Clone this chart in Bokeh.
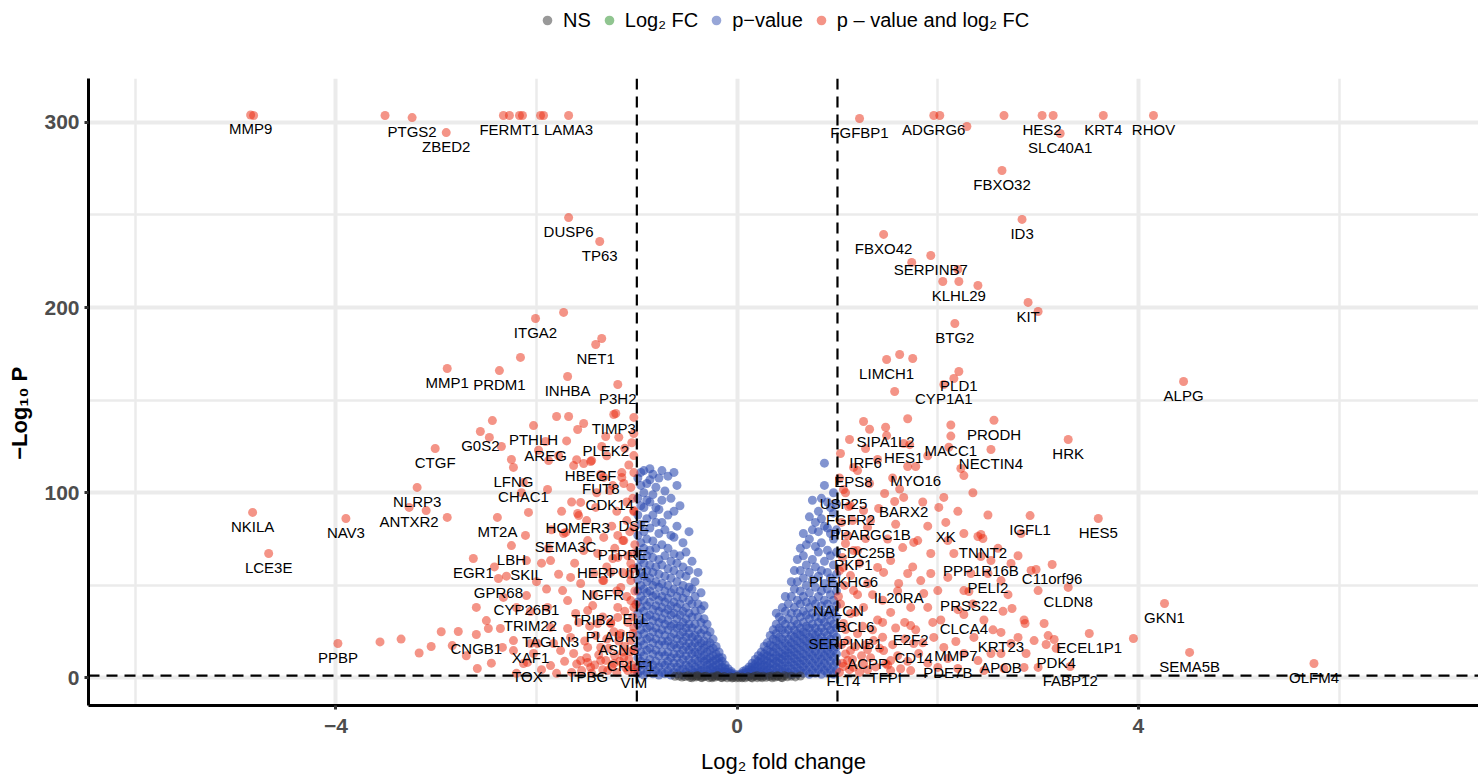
from bokeh.plotting import figure
from bokeh.layouts import column
from bokeh.models import ColumnDataSource, Span, FixedTicker, Legend, LegendItem, Range1d
from bokeh.embed import file_html
from bokeh.resources import INLINE
from bokeh.core.properties import value

# ---------------- data ----------------
# labelled genes: name, log2 fold change, -log10 p
LAB_GENES = ["MMP9", "PTGS2", "ZBED2", "FERMT1", "LAMA3", "DUSP6", "TP63", "ITGA2", "NET1", "MMP1",
             "PRDM1", "INHBA", "P3H2", "TIMP3", "G0S2", "PTHLH", "PLEK2", "AREG", "CTGF", "HBEGF",
             "LFNG", "FUT8", "CHAC1", "NLRP3", "CDK14", "ANTXR2", "DSE", "NKILA", "HOMER3", "MT2A",
             "NAV3", "SEMA3C", "PTPRE", "LBH", "LCE3E", "HERPUD1", "EGR1", "SKIL", "GPR68", "NGFR",
             "CYP26B1", "ELL", "TRIB2", "TRIM22", "PLAUR", "TAGLN3", "CNGB1", "ASNS", "PPBP", "XAF1",
             "CRLF1", "TOX", "TPBG", "VIM",
             "FGFBP1", "ADGRG6", "HES2", "KRT4", "RHOV", "SLC40A1", "FBXO32", "ID3", "FBXO42", "SERPINB7",
             "KLHL29", "KIT", "BTG2", "LIMCH1", "PLD1", "ALPG", "CYP1A1", "PRODH", "SIPA1L2", "MACC1",
             "HRK", "HES1", "IRF6", "NECTIN4", "MYO16", "EPS8", "USP25", "BARX2", "FGFR2", "IGFL1",
             "HES5", "PPARGC1B", "XK", "CDC25B", "TNNT2", "PKP1", "PPP1R16B", "C11orf96", "PLEKHG6", "PELI2",
             "IL20RA", "CLDN8", "PRSS22", "NALCN", "GKN1", "BCL6", "CLCA4", "E2F2", "SERPINB1", "KRT23",
             "ECEL1P1", "MMP7", "CD14", "PDK4", "ACPP", "SEMA5B", "APOB", "PDE7B", "TFPI", "OLFM4",
             "FLT4", "FABP12"]
LAB_LFC = [-4.85, -3.24, -2.90, -2.27, -1.68, -1.68, -1.37, -2.01, -1.41, -2.89,
           -2.37, -1.69, -1.19, -1.23, -2.56, -2.03, -1.31, -1.91, -3.01, -1.46,
           -2.23, -1.36, -2.13, -3.19, -1.27, -3.27, -1.03, -4.83, -1.59, -2.39,
           -3.90, -1.71, -1.14, -2.25, -4.67, -1.24, -2.63, -2.10, -2.38, -1.34,
           -2.10, -1.01, -1.44, -2.06, -1.26, -1.86, -2.60, -1.18, -3.98, -2.06,
           -1.06, -2.09, -1.49, -1.03,
           1.22, 1.96, 3.04, 3.65, 4.15, 3.22, 2.64, 2.84, 1.46, 1.93,
           2.21, 2.90, 2.17, 1.49, 2.21, 4.45, 2.06, 2.56, 1.48, 2.13,
           3.30, 1.66, 1.28, 2.53, 1.78, 1.16, 1.06, 1.66, 1.13, 2.92,
           3.60, 1.33, 2.08, 1.28, 2.45, 1.16, 2.43, 3.14, 1.06, 2.50,
           1.61, 3.30, 2.31, 1.01, 4.26, 1.18, 2.26, 1.73, 1.08, 2.63,
           3.51, 2.18, 1.76, 3.18, 1.30, 4.51, 2.63, 2.10, 1.48, 5.75,
           1.06, 3.32]
LAB_P = [304.0, 302.6, 294.5, 303.7, 303.7, 248.6, 235.7, 194.1, 180.1, 167.1,
         166.0, 162.8, 158.5, 142.3, 133.1, 136.3, 130.4, 127.7, 123.9, 116.9,
         113.7, 109.9, 105.6, 102.9, 101.2, 92.1, 89.9, 89.4, 88.8, 86.7,
         86.1, 78.6, 74.2, 71.5, 67.2, 64.5, 64.5, 63.4, 53.7, 52.6,
         44.5, 39.7, 39.1, 35.9, 30.0, 27.3, 23.5, 22.9, 18.6, 18.6,
         14.3, 8.4, 8.4, 5.1,
         302.1, 303.7, 303.7, 303.7, 303.7, 294.0, 274.0, 247.6, 239.5, 228.1,
         214.1, 202.8, 191.4, 172.0, 165.5, 160.1, 158.5, 139.2, 135.4, 130.6,
         128.8, 126.6, 123.9, 123.4, 114.2, 113.7, 101.8, 97.5, 93.1, 87.7,
         86.1, 85.0, 84.0, 75.3, 75.3, 68.8, 65.6, 61.3, 59.7, 56.4,
         51.0, 48.9, 46.7, 44.0, 40.2, 35.4, 34.3, 28.3, 26.2, 24.6,
         24.0, 19.7, 18.6, 16.0, 15.4, 13.8, 13.2, 10.5, 7.8, 7.8,
         6.2, 6.2]

# unlabelled genes passing both cut-offs (log2FC, -log10 p)
RED_LEFT = [(-4.82, 303.7), (-3.51, 303.7), (-2.33, 303.7), (-2.17, 303.7), (-2.14, 303.7), (-1.96, 303.7),
            (-1.93, 303.7), (-1.73, 197.4), (-1.35, 183.3), (-2.16, 173.1), (-2.47, 129.9), (-2.44, 139.0),
            (-3.10, 90.4), (-2.89, 86.7), (-1.03, 140.7), (-1.03, 132.0), (-1.03, 120.1), (-1.03, 110.9),
            (-1.15, 110.9), (-1.13, 105.0), (-1.06, 102.9), (-1.24, 103.9), (-1.56, 94.8), (-1.58, 87.7),
            (-1.41, 92.1), (-1.33, 75.9), (-1.19, 77.0), (-1.13, 74.2), (-1.03, 90.4), (-1.03, 81.3),
            (-1.49, 74.2), (-1.88, 69.9), (-1.73, 78.0), (-1.63, 114.7), (-1.53, 115.8), (-1.60, 117.9),
            (-1.45, 117.4), (-1.53, 137.4), (-1.59, 134.2), (-1.80, 141.2), (-1.68, 141.2), (-1.21, 142.8),
            (-1.88, 117.4), (-2.08, 89.4), (-2.11, 77.0), (-1.89, 101.8), (-1.33, 108.3), (-1.15, 108.3),
            (-1.86, 63.4), (-2.60, 38.1), (-2.33, 43.5), (-1.66, 54.3), (-1.56, 51.0), (-1.43, 56.4),
            (-1.74, 47.2), (-1.69, 41.8), (-1.89, 38.1), (-1.61, 34.8), (-1.49, 36.4), (-1.19, 38.1),
            (-1.06, 41.8), (-1.16, 48.9), (-1.06, 52.6), (-1.33, 52.6), (-1.26, 57.0), (-1.06, 61.8),
            (-1.19, 65.1), (-1.39, 67.2), (-1.53, 68.8), (-1.03, 67.2), (-2.78, 25.1), (-2.48, 26.7),
            (-2.36, 26.7), (-2.34, 16.5), (-2.23, 20.2), (-2.84, 17.5), (-2.23, 14.8), (-2.03, 13.2),
            (-1.86, 6.7), (-1.69, 26.7), (-1.66, 21.9), (-1.49, 16.5), (-1.63, 13.2), (-1.36, 16.5),
            (-1.36, 9.4), (-1.23, 7.8), (-1.13, 11.1), (-1.06, 20.2), (-1.16, 24.0), (-1.26, 29.4),
            (-1.03, 27.3), (-1.03, 14.8), (-1.09, 4.0), (-1.29, 4.0), (-1.46, 5.7), (-1.56, 9.4),
            (-1.99, 18.6), (-1.76, 14.8), (-1.83, 18.6), (-2.13, 7.8), (-2.59, 5.1), (-1.03, 38.1),
            (-1.19, 32.7), (-1.39, 29.4), (-1.02, 3.0), (-1.05, 7.0), (-1.08, 10.0), (-1.11, 5.5),
            (-1.14, 14.0), (-1.17, 9.0), (-1.20, 3.0), (-1.22, 12.0), (-1.25, 6.0), (-1.28, 16.0),
            (-1.31, 9.5), (-1.34, 4.5), (-1.38, 12.5), (-1.42, 7.0), (-1.45, 2.5), (-1.50, 11.0),
            (-1.55, 4.0), (-1.60, 7.5), (-1.04, 24.0), (-1.09, 30.0), (-1.12, 17.0), (-1.18, 20.0),
            (-1.23, 25.0), (-1.30, 21.0), (-1.34, 33.0), (-1.41, 23.0), (-1.47, 28.0), (-1.52, 20.0),
            (-1.10, 44.0), (-1.20, 47.0), (-1.14, 57.0), (-1.09, 66.0), (-1.22, 70.0), (-1.30, 60.0),
            (-1.43, 45.0), (-1.58, 30.0), (-1.65, 3.0), (-1.72, 9.0), (-1.80, 2.5), (-1.95, 4.5),
            (-2.20, 2.5), (-2.45, 8.0), (-1.04, 33.0), (-1.12, 36.0), (-1.02, 47.0), (-1.07, 56.0),
            (-1.04, 59.0), (-1.02, 72.0), (-1.07, 79.0), (-1.10, 85.0), (-1.04, 97.0), (-1.10, 95.0),
            (-1.20, 90.0), (-1.25, 82.0), (-1.08, 115.0), (-1.12, 124.0), (-1.05, 127.0), (-1.18, 130.0),
            (-1.30, 120.0), (-1.35, 125.0), (-1.40, 100.0), (-1.50, 85.0), (-1.65, 95.0), (-1.75, 90.0),
            (-1.85, 80.0), (-1.95, 62.0), (-2.00, 52.0), (-1.90, 48.0), (-1.78, 56.0), (-1.62, 62.0),
            (-2.20, 38.0), (-2.50, 31.0), (-2.70, 12.0), (-2.95, 25.0), (-3.05, 17.0), (-3.35, 21.0),
            (-3.56, 19.5), (-3.17, 13.5), (-2.30, 55.0), (-2.42, 60.0), (-2.15, 100.0), (-2.25, 118.0),
            (-2.35, 125.0), (-1.98, 123.0), (-1.70, 128.0), (-1.78, 120.0)]
RED_RIGHT = [(2.02, 303.7), (2.29, 297.8), (2.66, 303.7), (3.15, 303.7), (1.74, 224.4), (2.20, 220.6),
             (2.05, 214.1), (2.40, 211.9), (3.00, 197.9), (1.62, 174.7), (1.75, 172.5), (2.16, 161.7),
             (1.57, 154.7), (2.13, 136.6), (2.11, 124.6), (1.26, 138.5), (1.32, 134.3), (1.49, 130.9),
             (1.12, 128.8), (1.72, 126.0), (1.03, 121.2), (1.70, 114.2), (2.23, 113.1), (2.26, 109.3),
             (1.47, 99.6), (1.57, 95.3), (2.06, 97.5), (2.01, 92.1), (2.26, 78.0), (2.40, 76.4),
             (2.43, 77.5), (2.83, 78.0), (2.98, 58.6), (2.74, 37.5), (2.87, 29.4), (3.10, 22.9),
             (3.16, 20.8), (3.95, 21.3), (3.08, 18.1), (2.80, 21.9), (2.88, 13.2), (1.11, 92.6),
             (1.26, 90.4), (1.41, 91.5), (1.15, 85.0), (1.30, 81.3), (1.58, 83.0), (1.76, 73.2),
             (1.80, 74.2), (2.10, 74.2), (1.08, 72.6), (1.20, 68.8), (1.40, 59.7), (1.46, 57.0),
             (1.53, 63.4), (1.65, 70.4), (1.70, 56.4), (1.83, 52.6), (1.93, 56.4), (1.86, 45.6),
             (1.73, 38.1), (1.53, 35.4), (1.40, 31.3), (1.26, 38.1), (1.16, 47.2), (1.13, 55.3),
             (1.30, 51.0), (1.90, 38.1), (2.03, 31.3), (1.96, 21.9), (2.06, 16.5), (1.81, 13.2),
             (1.53, 9.4), (1.46, 14.8), (1.36, 20.2), (1.20, 24.0), (1.13, 14.8), (1.10, 9.4),
             (1.16, 5.7), (1.26, 7.8), (2.26, 13.2), (2.40, 9.4), (2.53, 13.2), (2.73, 18.6),
             (2.86, 31.3), (2.46, 31.3), (2.36, 21.9), (2.20, 36.9), (2.26, 47.2), (2.00, 47.2),
             (2.10, 54.3), (2.33, 56.4), (2.63, 52.6), (2.53, 63.4), (2.16, 67.2), (1.93, 67.2),
             (2.73, 61.8), (2.93, 58.1), (3.00, 47.2), (3.06, 29.4), (2.96, 20.2), (3.00, 5.7),
             (2.86, 5.7), (2.66, 5.1), (2.46, 4.0), (2.20, 5.1), (2.00, 5.7), (1.73, 4.0),
             (1.53, 4.0), (1.10, 20.2), (1.06, 29.4), (1.13, 34.8), (1.02, 3.0), (1.05, 8.0),
             (1.08, 13.0), (1.12, 4.5), (1.15, 10.0), (1.18, 17.0), (1.22, 3.0), (1.24, 12.0),
             (1.28, 18.0), (1.30, 4.5), (1.33, 11.0), (1.35, 26.0), (1.38, 6.0), (1.42, 16.0),
             (1.45, 22.0), (1.50, 7.0), (1.55, 18.0), (1.58, 27.0), (1.60, 12.0), (1.63, 5.0),
             (1.67, 21.0), (1.70, 9.0), (1.78, 26.0), (1.85, 19.0), (1.90, 8.0), (1.95, 30.0),
             (1.04, 18.0), (1.03, 40.0), (1.07, 50.0), (1.02, 58.0), (1.05, 65.0), (1.10, 77.0),
             (1.04, 84.0), (1.22, 62.0), (1.35, 45.0), (1.45, 42.0), (1.60, 47.0), (1.67, 30.0),
             (1.02, 108.0), (1.08, 100.0), (1.20, 112.0), (1.32, 105.0), (1.40, 118.0), (1.55, 108.0),
             (1.62, 102.0), (1.85, 95.0), (1.90, 82.0), (2.20, 90.0), (2.35, 100.0), (2.50, 88.0),
             (2.60, 70.0), (2.70, 45.0), (2.80, 66.0), (1.75, 60.0), (1.20, 45.0), (1.50, 75.0),
             (1.90, 120.0), (1.70, 140.0), (2.35, 40.0), (2.55, 26.0), (2.65, 36.0), (1.25, 28.0),
             (1.45, 30.0)]

# significant p-value only (|log2FC| < 1): one column of -log10 p values per log2FC
BLUE_X = [-0.99, -0.96, -0.93, -0.90, -0.87, -0.84, -0.81, -0.78, -0.75, -0.72, -0.69, -0.66,
          -0.63, -0.60, -0.57, -0.54, -0.51, -0.48, -0.45, -0.42, -0.39, -0.36, -0.33, -0.30,
          -0.27, -0.24, -0.21, -0.18, -0.15, -0.12, -0.09, -0.06, -0.03,
          0.03, 0.06, 0.09, 0.12, 0.15, 0.18, 0.21, 0.24, 0.27, 0.30, 0.33, 0.36, 0.39, 0.42,
          0.45, 0.48, 0.51, 0.54, 0.57, 0.60, 0.63, 0.66, 0.69, 0.72, 0.75, 0.78, 0.81, 0.84,
          0.87, 0.90, 0.93, 0.96, 0.99]
BLUE_Y = [
    [2.3, 6, 11, 17, 23, 29, 35, 41, 47, 53, 60, 68, 77, 88, 97, 108],
    [4, 9, 14, 20, 26, 31, 38, 44, 50, 57, 64, 73, 83, 93, 104, 111],
    [1.6, 7, 12, 18, 24, 30, 36, 42, 48, 55, 62, 70, 79, 92, 100, 112],
    [3, 8, 15, 21, 27, 33, 39, 46, 52, 58, 66, 75, 86, 96, 105],
    [5, 10, 16, 22, 28, 34, 41, 47, 54, 61, 69, 81, 95, 107, 113],
    [2.3, 7, 13, 19, 25, 31, 37, 44, 50, 57, 65, 74, 88, 99, 110],
    [4, 9, 15, 21, 27, 33, 39, 45, 52, 60, 70, 84, 92, 103],
    [1.6, 6, 12, 18, 24, 30, 36, 42, 49, 56, 64, 78, 91, 108],
    [3, 8, 14, 20, 26, 32, 38, 44, 51, 61, 72, 84, 96, 112],
    [2.3, 7, 12, 18, 23, 29, 35, 41, 47, 55, 66, 80, 101],
    [4, 9, 14, 20, 26, 31, 37, 43, 50, 59, 70, 88, 109],
    [1.6, 6, 11, 17, 22, 28, 34, 39, 46, 54, 63, 77, 97],
    [3, 8, 13, 18, 24, 29, 35, 41, 48, 58, 67, 76, 90, 111],
    [2.3, 6, 11, 16, 21, 27, 32, 38, 44, 52, 62, 82, 104],
    [4, 8, 13, 18, 23, 28, 34, 40, 47, 56, 66, 93],
    [1.6, 5, 10, 15, 20, 25, 30, 36, 43, 50, 60, 73],
    [3, 7, 12, 17, 22, 27, 32, 38, 46, 55, 68],
    [2.3, 6, 10, 15, 19, 24, 29, 35, 42, 49, 58, 79],
    [1.6, 4, 8, 13, 17, 22, 27, 33, 40, 48, 63],
    [3, 6, 10, 14, 19, 23, 29, 36, 44, 52],
    [2.3, 5, 9, 13, 17, 21, 26, 33, 40, 57],
    [1.6, 4, 7, 11, 15, 19, 24, 30, 37, 46],
    [2.3, 5, 9, 12, 16, 20, 26, 32, 39],
    [1.6, 4, 7, 10, 14, 18, 23, 29],
    [2.3, 5, 8, 11, 15, 19, 25],
    [1.6, 4, 6, 9, 12, 16, 21],
    [2.3, 4, 7, 10, 13, 17],
    [1.6, 3, 5, 8, 11, 14],
    [1.5, 3.5, 6, 9, 11],
    [1.6, 3, 5, 7],
    [1.5, 3, 5],
    [1.4, 2.5, 3.5],
    [1.4, 2.2],
    [1.5, 2.2],
    [1.5, 2.6, 3.6],
    [1.6, 3, 4.5],
    [1.5, 3, 4.5, 6],
    [2, 4, 6, 8],
    [1.6, 3.5, 5.5, 7.5, 10],
    [2, 4, 6.5, 9, 12],
    [1.6, 3.5, 6, 8.5, 11, 14],
    [2.3, 4.5, 7, 10, 13, 17],
    [1.6, 4, 6.5, 9, 12, 15, 19],
    [2.5, 5, 8, 11, 14, 18, 23],
    [1.8, 4.5, 7.5, 10.5, 14, 17, 21, 26],
    [3, 6, 9, 12, 16, 20, 24, 29, 35],
    [2, 5, 8, 11, 14, 18, 22, 27, 33],
    [3.5, 6.5, 10, 13, 17, 21, 26, 31, 38],
    [2.2, 5, 8.5, 12, 15, 19, 24, 29, 36, 44],
    [3, 6.5, 10, 13.5, 17, 21, 26, 32, 40],
    [1.8, 5, 8.5, 12, 15.5, 19, 23, 28, 35, 44, 52],
    [3.5, 7, 10.5, 14, 18, 22, 26, 31, 38, 48, 58],
    [2.2, 5.5, 9, 12.5, 16, 20, 24, 29, 35, 42, 52, 64],
    [4, 7.5, 11, 15, 19, 23, 27, 33, 40, 47, 58, 70],
    [2.5, 6, 9.5, 13, 17, 21, 25, 30, 36, 44, 54, 66, 78],
    [4, 8, 12, 16, 20, 24, 28, 34, 41, 50, 61, 72],
    [2, 6, 10, 14, 18, 22, 27, 32, 38, 46, 57, 75, 87],
    [4, 8, 12, 16, 20, 24, 29, 35, 42, 53, 64, 80, 96],
    [2.5, 6.5, 10.5, 14.5, 19, 23, 27, 33, 40, 49, 60, 71, 84],
    [4.5, 8.5, 12.5, 17, 21, 25, 30, 36, 44, 55, 68, 79, 90],
    [2, 6, 10, 14, 18, 22, 27, 32, 39, 47, 58, 73, 86, 97],
    [4, 8, 12, 16, 20, 25, 30, 35, 42, 51, 63, 82, 104, 116],
    [2.5, 6.5, 11, 15, 19, 23, 28, 34, 40, 48, 57, 69, 81, 95],
    [4.5, 9, 13, 17, 21, 26, 31, 37, 45, 54, 66, 78, 92],
    [2, 6.5, 11, 15, 19, 24, 29, 35, 42, 51, 61, 75, 89, 100],
    [4, 8.5, 13, 17, 22, 27, 33, 39, 47, 56, 68, 80, 94],
]

# not significant
NS_X = [-0.62, -0.58, -0.55, -0.52, -0.49, -0.47, -0.44, -0.41, -0.39, -0.36, -0.33, -0.31,
        -0.28, -0.25, -0.22, -0.19, -0.16, -0.13, -0.10, -0.07, -0.04, -0.01, 0.02, 0.05,
        0.08, 0.11, 0.14, 0.17, 0.20, 0.23, 0.26, 0.29, 0.32, 0.35, 0.38, 0.41, 0.44, 0.47,
        0.50, 0.54, 0.58, 0.63, -0.45, -0.35, -0.25, -0.15, -0.05, 0.05, 0.15, 0.25, 0.35,
        0.45, -0.40, -0.20, 0.00, 0.20, 0.40]
NS_Y = [0.9, 1.1, 0.5, 0.8, 1.2, 0.3, 0.9, 0.6, 1.1, 0.4, 0.8, 1.0, 0.2, 0.7, 0.5, 1.1, 0.3,
        0.8, 0.1, 0.6, 0.3, 0.1, 0.2, 0.5, 0.1, 0.7, 0.3, 0.9, 0.2, 0.6, 1.0, 0.4, 0.8, 1.1,
        0.5, 0.9, 0.3, 1.2, 0.7, 1.0, 0.6, 1.1, 0.1, 0.2, 0.1, 0.2, 0.05, 0.1, 0.05, 0.2, 0.1,
        0.2, 1.2, 1.2, 0.9, 1.2, 1.2]

FC_CUT = 1.0
P_CUT = 1.3  # -log10(0.05)

X_TICKS = [-4, 0, 4]
X_MINOR = [-6, -2, 2, 6]
Y_TICKS = [0, 100, 200, 300]
Y_MINOR = [50, 150, 250]

LEGEND_LABELS = ["NS", "Log\u2082 FC", "p\u2212value", "p \u2013 value and log\u2082 FC"]

# ---------------- styles ----------------
FONT = "Liberation Sans"
COL_NS = "#333333"
COL_FC = "#228B22"
COL_P = "#2F4DB0"
COL_BOTH = "#EA2A10"
ALPHA = 0.5
ALPHA_P = 0.6
PT = 9
W = 1478
LEG_H = 40

blue_x, blue_y = [], []
for xv, ys in zip(BLUE_X, BLUE_Y):
    for yv in ys:
        blue_x.append(xv)
        blue_y.append(yv)

red_x = [t[0] for t in RED_LEFT + RED_RIGHT] + LAB_LFC
red_y = [t[1] for t in RED_LEFT + RED_RIGHT] + LAB_P

p = figure(width=W, height=780 - LEG_H, output_backend="svg", toolbar_location=None,
           x_range=Range1d(-6.466, 7.39), y_range=Range1d(-14.85, 323.7),
           min_border_left=88, min_border_right=0, min_border_top=78 - LEG_H, min_border_bottom=75)
p.outline_line_color = None
p.background_fill_color = "white"

p.xaxis.ticker = FixedTicker(ticks=X_TICKS, minor_ticks=X_MINOR)
p.yaxis.ticker = FixedTicker(ticks=Y_TICKS, minor_ticks=Y_MINOR)
p.grid.grid_line_color = "#EBEBEB"
p.grid.grid_line_width = 4
p.grid.minor_grid_line_color = "#EBEBEB"
p.grid.minor_grid_line_width = 2.5

for ax in (p.xaxis[0], p.yaxis[0]):
    ax.axis_line_width = 3
    ax.axis_line_color = "black"
    ax.major_tick_line_color = "#333333"
    ax.major_tick_line_width = 3
    ax.major_tick_out = 4
    ax.major_tick_in = 0
    ax.minor_tick_line_color = None
    ax.major_label_text_font = FONT
    ax.major_label_text_font_style = "bold"
    ax.major_label_text_color = "#4D4D4D"
    ax.major_label_text_font_size = "21px"
    ax.axis_label_text_font = FONT
    ax.axis_label_text_color = "black"
    ax.axis_label_text_font_size = "22px"

p.xaxis.axis_label = "Log\u2082 fold change"
p.xaxis.axis_label_text_font_style = "normal"
p.xaxis.major_label_standoff = 9
p.xaxis.axis_label_standoff = 13
# trailing no-break spaces nudge the rotated title a little lower, as in the original
p.yaxis.axis_label = "\u2212Log\u2081\u2080 P" + "\u00a0" * 7
p.yaxis.axis_label_text_font_style = "bold"
p.yaxis.major_label_standoff = 5
p.yaxis.axis_label_standoff = 9

r_p = p.scatter(blue_x, blue_y, size=PT, fill_color=COL_P, fill_alpha=ALPHA_P, line_color=None)
r_ns = p.scatter(NS_X, NS_Y, size=PT, fill_color=COL_NS, fill_alpha=ALPHA, line_color=None)
r_both = p.scatter(red_x, red_y, size=PT, fill_color=COL_BOTH, fill_alpha=ALPHA, line_color=None)

for loc in (-FC_CUT, FC_CUT):
    p.add_layout(Span(location=loc, dimension="height", line_color="black",
                      line_dash="11 7", line_width=2.2))
p.add_layout(Span(location=P_CUT, dimension="width", line_color="black",
                  line_dash="11 7", line_width=2.2))

lab_src = ColumnDataSource(dict(x=LAB_LFC, y=LAB_P, t=LAB_GENES))
p.text(x="x", y="y", text="t", source=lab_src, text_font=value(FONT), text_font_size="15px",
       text_color="black", text_align="center", text_baseline="middle", y_offset=14)

# ---------------- legend strip above the plot ----------------
# swatch renderers re-use the first gene of each class; the strip's ranges keep them off-screen
lf = figure(width=W, height=LEG_H, output_backend="svg", toolbar_location=None,
            x_axis_type=None, y_axis_type=None, x_range=Range1d(100, 101), y_range=Range1d(1000, 1001),
            min_border=0, min_border_left=0, min_border_right=0, min_border_top=0,
            min_border_bottom=0)
lf.outline_line_color = None
lf.grid.visible = False
g_ns = lf.scatter(NS_X[:1], NS_Y[:1], size=PT, fill_color=COL_NS, fill_alpha=ALPHA, line_color=None)
g_fc = lf.scatter(NS_X[:1], NS_Y[:1], size=PT, fill_color=COL_FC, fill_alpha=ALPHA, line_color=None)
g_p = lf.scatter(blue_x[:1], blue_y[:1], size=PT, fill_color=COL_P, fill_alpha=ALPHA, line_color=None)
g_both = lf.scatter(LAB_LFC[:1], LAB_P[:1], size=PT, fill_color=COL_BOTH, fill_alpha=ALPHA,
                    line_color=None)

legend = Legend(items=[LegendItem(label=LEGEND_LABELS[0], renderers=[g_ns]),
                       LegendItem(label=LEGEND_LABELS[1], renderers=[g_fc]),
                       LegendItem(label=LEGEND_LABELS[2], renderers=[g_p]),
                       LegendItem(label=LEGEND_LABELS[3], renderers=[g_both])],
                orientation="horizontal", location=(447, 8),
                glyph_width=24, glyph_height=24, label_standoff=4, spacing=6,
                padding=0, margin=0, border_line_color=None, background_fill_alpha=0,
                label_text_font=FONT, label_text_font_size="20px", label_text_color="black",
                label_height=24)
lf.add_layout(legend)

layout = column(lf, p, spacing=0)
open("out.html", "w").write(file_html(layout, INLINE))
